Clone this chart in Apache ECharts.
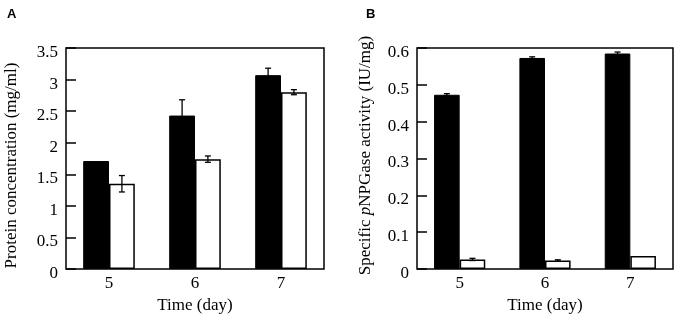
<!DOCTYPE html>
<html>
<head>
<meta charset="utf-8">
<script src="https://cdn.jsdelivr.net/npm/echarts@6/dist/echarts.min.js"></script>
<style>
  html, body { margin: 0; padding: 0; background: #fff; }
  #chart { width: 680px; height: 317px; }
</style>
</head>
<body>
<div id="chart"></div>
<script>
// categories
const days = ['5', '6', '7'];

// panel A - protein concentration (mg/ml)
const proteinBlack = [1.71, 2.43, 3.07];
const proteinBlackErr = [0, 0.25, 0.11];
const proteinWhite = [1.35, 1.74, 2.80];
const proteinWhiteErr = [0.13, 0.05, 0.04];

// panel B - specific pNPGase activity (IU/mg)
const activityBlack = [0.473, 0.573, 0.585];
const activityBlackErr = [0.003, 0.003, 0.004];
const activityWhite = [0.026, 0.023, 0.035];
const activityWhiteErr = [0.003, 0.002, 0];

const serif = 'Liberation Serif';
const fs = 17;
const barFrac = 0.3;

// error bar drawn at left (-1) or right (+1) half of the category band
function errorBars(side) {
  return function (params, api) {
    const x = api.value(0);
    const v = api.value(1);
    const e = api.value(2);
    if (!e) return;
    const band = api.size([1, 0])[0];
    const hi = api.coord([x, v + e]);
    const lo = api.coord([x, v - e]);
    const cx = hi[0] + side * band * barFrac / 2;
    const cap = 3;
    const style = { stroke: '#000', lineWidth: 1.3 };
    return {
      type: 'group',
      children: [
        { type: 'line', shape: { x1: cx, y1: hi[1], x2: cx, y2: lo[1] }, style: style },
        { type: 'line', shape: { x1: cx - cap, y1: hi[1], x2: cx + cap, y2: hi[1] }, style: style },
        { type: 'line', shape: { x1: cx - cap, y1: lo[1], x2: cx + cap, y2: lo[1] }, style: style }
      ]
    };
  };
}

function errData(vals, errs) {
  return vals.map((v, i) => [i, v, errs[i]]);
}

function xAxisFor(idx) {
  return {
    type: 'category',
    gridIndex: idx,
    data: days,
    name: 'Time (day)',
    nameLocation: 'middle',
    nameGap: 25,
    nameTextStyle: { fontFamily: serif, fontSize: fs, color: '#000' },
    axisLine: { show: false },
    axisTick: { inside: true, length: 10, lineStyle: { color: '#000', width: 1.5 } },
    axisLabel: { fontFamily: serif, fontSize: fs, color: '#000', margin: 6 },
    splitLine: { show: false }
  };
}

function yAxisFor(idx, max, interval, name, nameGap, namePad) {
  return {
    type: 'value',
    gridIndex: idx,
    min: 0,
    max: max,
    interval: interval,
    name: name,
    nameLocation: 'middle',
    nameGap: nameGap,
    nameTextStyle: {
      fontFamily: serif, fontSize: fs, color: '#000',
      padding: namePad,
      rich: {
        a: { fontFamily: serif, fontSize: fs, color: '#000' },
        i: { fontFamily: serif, fontSize: fs, color: '#000', fontStyle: 'italic' }
      }
    },
    axisLine: { show: false },
    axisTick: { show: true, inside: true, length: 10, lineStyle: { color: '#000', width: 1.5 } },
    // labels sit a little below their ticks in the original
    axisLabel: { fontFamily: serif, fontSize: fs, color: '#000', margin: 8, verticalAlign: 'top', lineHeight: 9 },
    splitLine: { show: false }
  };
}

const chart = echarts.init(document.getElementById('chart'));

const option = {
  backgroundColor: '#fff',
  animation: false,
  title: [
    { text: 'A', left: 2, top: 3, textStyle: { fontFamily: 'Liberation Sans', fontWeight: 'bold', fontSize: 13, color: '#000' } },
    { text: 'B', left: 361, top: 3, textStyle: { fontFamily: 'Liberation Sans', fontWeight: 'bold', fontSize: 13, color: '#000' } }
  ],
  grid: [
    { left: 66, right: 356, top: 48, bottom: 48, outerBoundsMode: 'none', show: true, borderColor: '#000', borderWidth: 1.5, backgroundColor: 'transparent' },
    { left: 417, right: 7, top: 48, bottom: 48, outerBoundsMode: 'none', show: true, borderColor: '#000', borderWidth: 1.5, backgroundColor: 'transparent' }
  ],
  xAxis: [xAxisFor(0), xAxisFor(1)],
  yAxis: [
    yAxisFor(0, 3.5, 0.5, 'Protein concentration (mg/ml)', 46, [0, 14, 0, 0]),
    yAxisFor(1, 0.6, 0.1, '{a|Specific }{i|p}{a|NPGase activity (IU/mg)}', 43, [0, 0, 0, 6])
  ],
  series: [
    {
      type: 'bar', xAxisIndex: 0, yAxisIndex: 0, data: proteinBlack,
      barWidth: '30%', barGap: '0%',
      itemStyle: { color: '#000', borderColor: '#000', borderWidth: 1 }
    },
    {
      type: 'bar', xAxisIndex: 0, yAxisIndex: 0, data: proteinWhite,
      barWidth: '30%', barGap: '0%',
      itemStyle: { color: '#fff', borderColor: '#000', borderWidth: 1.5 }
    },
    {
      type: 'custom', xAxisIndex: 0, yAxisIndex: 0, renderItem: errorBars(-1),
      data: errData(proteinBlack, proteinBlackErr), z: 5
    },
    {
      type: 'custom', xAxisIndex: 0, yAxisIndex: 0, renderItem: errorBars(1),
      data: errData(proteinWhite, proteinWhiteErr), z: 5
    },
    {
      type: 'bar', xAxisIndex: 1, yAxisIndex: 1, data: activityBlack,
      barWidth: '30%', barGap: '0%',
      itemStyle: { color: '#000', borderColor: '#000', borderWidth: 1 }
    },
    {
      type: 'bar', xAxisIndex: 1, yAxisIndex: 1, data: activityWhite,
      barWidth: '30%', barGap: '0%',
      itemStyle: { color: '#fff', borderColor: '#000', borderWidth: 1.5 }
    },
    {
      type: 'custom', xAxisIndex: 1, yAxisIndex: 1, renderItem: errorBars(-1),
      data: errData(activityBlack, activityBlackErr), z: 5
    },
    {
      type: 'custom', xAxisIndex: 1, yAxisIndex: 1, renderItem: errorBars(1),
      data: errData(activityWhite, activityWhiteErr), z: 5
    }
  ]
};

chart.setOption(option);
</script>
</body>
</html>
